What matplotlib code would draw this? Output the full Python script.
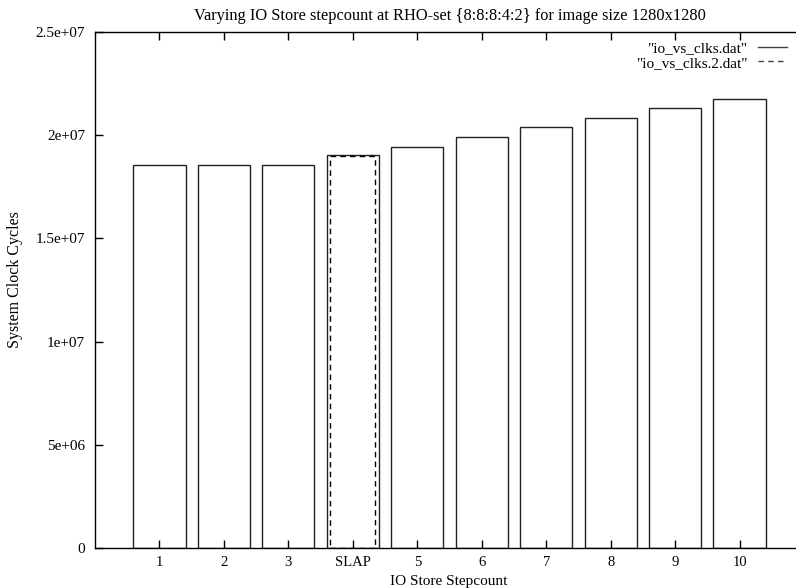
import matplotlib
matplotlib.use("Agg")
from matplotlib import pyplot as plt
from matplotlib.lines import Line2D

# data
labels = ["1", "2", "3", "SLAP", "5", "6", "7", "8", "9", "10"]
positions = [1, 2, 3, 4, 5, 6, 7, 8, 9, 10]
clks = [1.856e7, 1.856e7, 1.856e7, 1.904e7, 1.944e7, 1.993e7, 2.038e7, 2.085e7, 2.130e7, 2.176e7]
slap_positions = [4]
slap_clks = [1.900e7]

plt.rcParams["font.family"] = ["Liberation Serif", "DejaVu Serif"]
plt.rcParams["font.size"] = 11

W, H = 796, 588
fig = plt.figure(figsize=(W / 100, H / 100), dpi=100)
# gnuplot canvas: plot area runs past the right edge of the image
ax = fig.add_axes([95 / W, 40 / H, 709 / W, 516 / H])

ax.bar(positions, clks, width=0.81, fill=False, edgecolor="#222222",
       linewidth=1.0, label='"io_vs_clks.dat"')
ax.bar(slap_positions, slap_clks, width=0.7, fill=False, edgecolor="black",
       linewidth=1.0, linestyle=(0, (4, 3)), label='"io_vs_clks.2.dat"')

ax.set_xlim(0, 11)
ax.set_ylim(0, 2.5e7)
ax.set_xticks(positions)
ax.set_xticklabels(labels)
ax.set_yticks([0, 5e6, 1e7, 1.5e7, 2e7, 2.5e7])
ax.set_yticklabels(["0", "5e+06", "1e+07", "1.5e+07", "2e+07", "2.5e+07"])
ax.tick_params(direction="in", length=6, width=1, top=True, right=True, pad=7,
               labelsize=11)
ax.tick_params(axis="x", pad=6, labelsize=10.5)
for s in ax.spines.values():
    s.set_linewidth(1.0)

fig.text(449 / W, 1 - 581 / H, "IO Store Stepcount", ha="center", va="center",
         fontsize=11)
fig.text(15 / W, 1 - 280 / H, "System Clock Cycles", rotation=90,
         ha="center", va="center", fontsize=11.5)
ax.set_title("Varying IO Store stepcount at RHO-set {8:8:8:4:2} for image size 1280x1280",
             fontsize=11.8, pad=9)

lbls = [h.get_label() for h in ax.containers]
proxies = [Line2D([], [], color="#444444", lw=1.0),
           Line2D([], [], color="#444444", lw=1.0, linestyle=(0, (4, 3)))]
fig.legend(proxies, lbls, loc="upper right", bbox_to_anchor=(795 / W, 1 - 34 / H),
           frameon=False, markerfirst=False, handlelength=1.9, handletextpad=0.7,
           labelspacing=0.05, borderpad=0, fontsize=11)

fig.savefig("out.png", dpi=100)
